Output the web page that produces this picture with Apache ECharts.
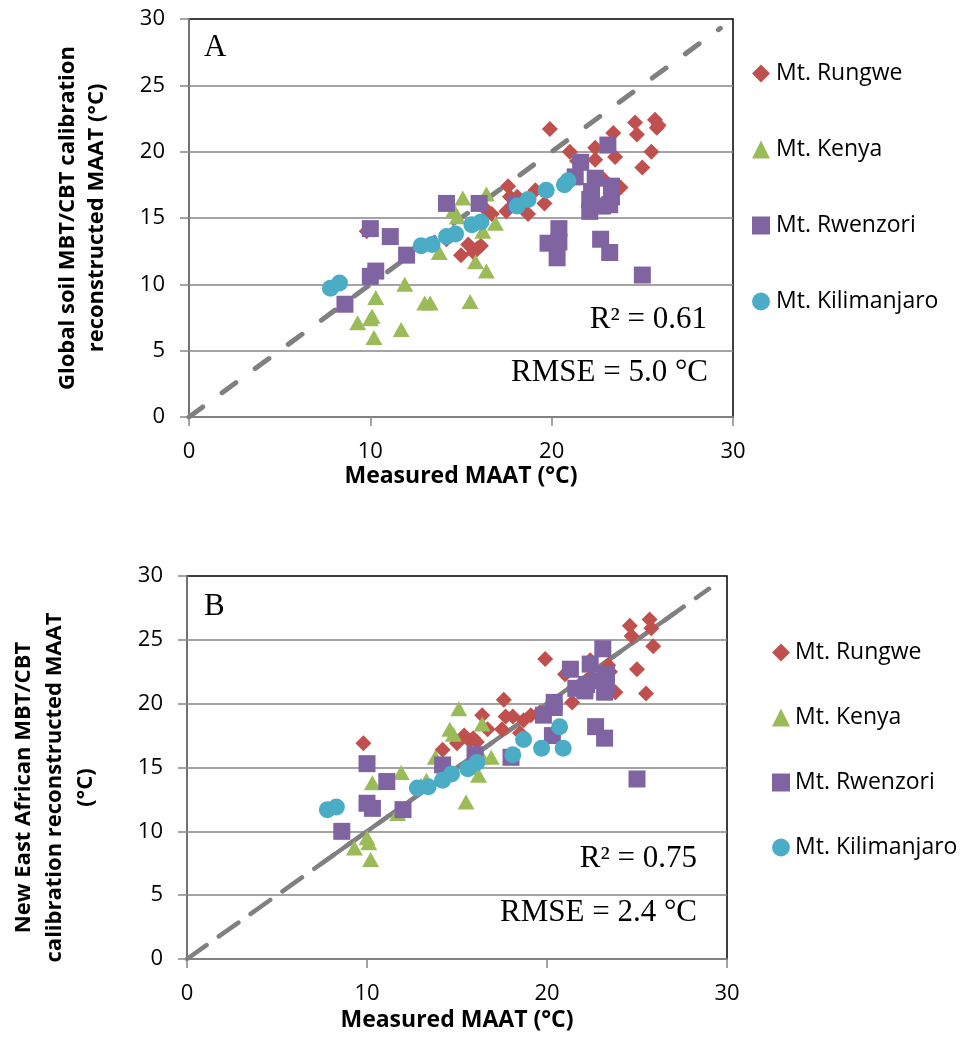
<!DOCTYPE html>
<html>
<head>
<meta charset="utf-8">
<script src="https://cdn.jsdelivr.net/npm/echarts@6/dist/echarts.min.js"></script>
<style>
  html, body { margin: 0; padding: 0; background: #fff; }
  #chart { width: 964px; height: 1039px; }
</style>
</head>
<body>
<div id="chart"></div>
<script>
// measured MAAT (x) per mountain, with the two reconstructions (panel A / panel B)
var rungweMaat   = [9.8, 14.2, 15.0, 15.4, 15.7, 15.9, 16.1, 16.4, 16.7, 17.5, 17.6, 17.7, 18.1, 18.5, 18.7, 19.1, 19.6, 19.9, 21.0, 21.4, 22.4, 22.4, 22.8, 23.4, 23.5, 23.8, 24.6, 24.7, 25.0, 25.5, 25.7, 25.8, 25.9];
var rungweGlobal = [14.0, 13.4, 12.2, 13.0, 12.4, 12.7, 12.9, 15.6, 15.3, 15.5, 17.4, 16.6, 16.6, 16.0, 15.3, 17.1, 16.1, 21.7, 20.0, 19.3, 20.3, 19.4, 18.0, 21.4, 19.6, 17.3, 22.2, 21.3, 18.8, 20.0, 22.4, 21.8, 22.0];
var rungweNew    = [16.9, 16.4, 16.9, 17.5, 17.1, 17.3, 17.0, 19.1, 18.0, 18.0, 20.3, 19.0, 19.0, 17.7, 18.7, 19.1, 19.3, 23.5, 22.3, 20.1, 23.4, 22.0, 21.8, 23.0, 22.5, 20.9, 26.1, 25.3, 22.7, 20.8, 26.6, 25.9, 24.5];

var kenyaMaat    = [9.3, 10.0, 10.1, 10.2, 10.3, 11.9, 11.7, 13.0, 13.3, 13.8, 14.6, 14.8, 15.1, 15.5, 15.8, 16.2, 16.4, 16.4, 16.9];
var kenyaGlobal  = [7.1, 7.4, 7.6, 6.0, 9.0, 10.0, 6.6, 8.6, 8.6, 12.4, 15.6, 15.1, 16.5, 8.7, 11.7, 14.0, 11.0, 16.8, 14.6];
var kenyaNew     = [8.7, 9.5, 9.1, 7.8, 13.8, 14.6, 11.4, 13.6, 14.0, 15.8, 18.0, 17.6, 19.6, 12.3, 15.0, 14.4, 15.8, 18.4, 15.8];

var rwenzoriMaat   = [8.6, 10.0, 10.3, 10.0, 11.1, 12.0, 14.2, 16.0, 18.0, 19.8, 20.4, 20.3, 20.4, 21.3, 21.6, 22.1, 22.1, 22.2, 22.4, 22.7, 22.8, 23.1, 23.2, 23.3, 23.3, 23.2, 25.0];
var rwenzoriGlobal = [8.5, 10.6, 11.0, 14.2, 13.6, 12.2, 16.1, 16.1, 16.0, 13.1, 13.2, 12.0, 14.2, 18.1, 19.2, 16.4, 15.5, 17.0, 18.0, 13.4, 15.9, 20.5, 12.4, 17.4, 16.6, 16.0, 10.7];
var rwenzoriNew    = [10.0, 12.2, 11.8, 15.3, 13.9, 11.7, 15.2, 16.0, 15.8, 19.1, 19.7, 17.5, 20.1, 22.7, 21.2, 21.2, 21.0, 21.5, 23.1, 18.2, 21.8, 24.3, 17.3, 22.3, 21.4, 20.9, 14.1];

var kiliMaat   = [7.8, 8.3, 12.8, 13.4, 14.2, 14.7, 15.6, 16.1, 18.1, 18.7, 19.7, 20.7, 20.9];
var kiliGlobal = [9.7, 10.1, 12.9, 13.0, 13.6, 13.8, 14.5, 14.7, 15.9, 16.4, 17.1, 17.5, 17.8];
var kiliNew    = [11.7, 11.9, 13.4, 13.5, 14.0, 14.5, 14.9, 15.4, 16.0, 17.2, 16.5, 18.2, 16.5];

var sites = ['Mt. Rungwe', 'Mt. Kenya', 'Mt. Rwenzori', 'Mt. Kilimanjaro'];
var siteColors = ['#C0504D', '#9BBB59', '#8064A2', '#4BACC6'];
var siteSymbols = ['diamond', 'triangle', 'rect', 'circle'];
var siteSizes = [[16, 16], [17, 15], [17, 17], [17, 17]];

// 1:1 line and regression line (panel B)
var oneToOneA = [0, 29.3];
var oneToOneB = [0, 29.0];
var fitB = [7.4, 27.1];

function pairs(xs, ys) {
    return xs.map(function(x, i) { return [x, ys[i]]; });
}

var gray = '#868686';
var sans = '"Open Sans", "Noto Sans", sans-serif';
var serif = '"Liberation Serif", "DejaVu Serif", serif';

function xAxisFor(gridIndex, gap) {
    return {
        type: 'value', gridIndex: gridIndex, min: 0, max: 30, interval: 10,
        name: 'Measured MAAT (°C)', nameLocation: 'middle', nameGap: gap,
        nameTextStyle: { fontFamily: sans, fontSize: 23, fontWeight: 'bold', color: '#000' },
        axisLine: { lineStyle: { color: gray, width: 1.5 } },
        axisTick: { show: true, length: 9, lineStyle: { color: gray, width: 1.5 } },
        axisLabel: { margin: 24, fontFamily: sans, fontSize: 22, color: '#000' },
        splitLine: { show: false }
    };
}

function yAxisFor(gridIndex, name, gap, lh, pad) {
    return {
        type: 'value', gridIndex: gridIndex, min: 0, max: 30, interval: 5,
        name: name, nameLocation: 'middle', nameGap: gap, nameRotate: 90,
        nameTextStyle: { fontFamily: sans, fontSize: 22, fontWeight: 'bold', color: '#000', lineHeight: lh, padding: pad },
        axisLine: { show: true, lineStyle: { color: gray, width: 1.5 } },
        axisTick: { show: true, length: 9, lineStyle: { color: gray, width: 1.5 } },
        axisLabel: { margin: 24, fontFamily: sans, fontSize: 22, color: '#000' },
        splitLine: { show: true, showMaxLine: false, lineStyle: { color: gray, width: 1.5 } }
    };
}

var series = [];
// reference lines first so the markers sit on top
series.push({
    type: 'line', xAxisIndex: 0, yAxisIndex: 0, silent: true, symbol: 'none', z: 1,
    data: [[oneToOneA[0], oneToOneA[0]], [oneToOneA[1], oneToOneA[1]]],
    lineStyle: { color: '#808080', width: 5, type: [17, 24], cap: 'round' }
});
series.push({
    type: 'line', xAxisIndex: 1, yAxisIndex: 1, silent: true, symbol: 'none', z: 1,
    data: [[oneToOneB[0], oneToOneB[0]], [oneToOneB[1], oneToOneB[1]]],
    lineStyle: { color: '#808080', width: 4.5, type: [24, 15], cap: 'round' }
});
series.push({
    type: 'line', xAxisIndex: 1, yAxisIndex: 1, silent: true, symbol: 'none', z: 1,
    data: [[fitB[0], fitB[0]], [fitB[1], fitB[1]]],
    lineStyle: { color: '#808080', width: 4.5, cap: 'round' }
});

var panelA = [pairs(rungweMaat, rungweGlobal), pairs(kenyaMaat, kenyaGlobal), pairs(rwenzoriMaat, rwenzoriGlobal), pairs(kiliMaat, kiliGlobal)];
var panelB = [pairs(rungweMaat, rungweNew), pairs(kenyaMaat, kenyaNew), pairs(rwenzoriMaat, rwenzoriNew), pairs(kiliMaat, kiliNew)];

[panelA, panelB].forEach(function(panel, p) {
    panel.forEach(function(data, i) {
        series.push({
            name: sites[i], type: 'scatter', xAxisIndex: p, yAxisIndex: p, z: 2 + i,
            symbol: siteSymbols[i], symbolSize: siteSizes[i],
            itemStyle: { color: siteColors[i], opacity: 1 },
            data: data
        });
    });
});

function label(text, x, y, align) {
    return {
        type: 'text', x: x, y: y, z: 100,
        style: { text: text, x: 0, y: 0, font: '31px ' + serif, fill: '#000', align: align, verticalAlign: 'middle' }
    };
}

var option = {
    backgroundColor: '#fff',
    animation: false,
    grid: [
        { left: 189, top: 19, width: 544, height: 398, show: true, borderColor: '#000', borderWidth: 1.5, backgroundColor: 'transparent' },
        { left: 187, top: 576, width: 540, height: 383, show: true, borderColor: '#000', borderWidth: 1.5, backgroundColor: 'transparent' }
    ],
    xAxis: [xAxisFor(0, 48), xAxisFor(1, 50)],
    yAxis: [
        yAxisFor(0, 'Global soil MBT/CBT calibration\nreconstructed MAAT (°C)', 78, 29, [0, 0, 0, 0]),
        yAxisFor(1, 'New East African MBT/CBT\ncalibration reconstructed MAAT\n(°C)', 86, 31, [0, 40, 0, 0])
    ],
    legend: [
        {
            orient: 'vertical', left: 747, top: 57, itemGap: 53, itemWidth: 18, itemHeight: 18,
            data: sites, selectedMode: false,
            textStyle: { fontFamily: sans, fontSize: 23, color: '#000', lineHeight: 23, padding: [0, 0, 0, 1] }
        },
        {
            orient: 'vertical', left: 767, top: 636, itemGap: 42, itemWidth: 18, itemHeight: 18,
            data: sites, selectedMode: false,
            textStyle: { fontFamily: sans, fontSize: 23, color: '#000', lineHeight: 23, padding: [0, 0, 0, 0] }
        }
    ],
    graphic: [
        label('A', 204, 48, 'left'),
        label('R² = 0.61', 707, 320, 'right'),
        label('RMSE = 5.0 °C', 708, 373, 'right'),
        label('B', 204, 607, 'left'),
        label('R² = 0.75', 697, 859, 'right'),
        label('RMSE = 2.4 °C', 697, 913, 'right')
    ],
    series: series
};

var chart = echarts.init(document.getElementById('chart'), null, { renderer: 'canvas' });
chart.setOption(option);
</script>
</body>
</html>
